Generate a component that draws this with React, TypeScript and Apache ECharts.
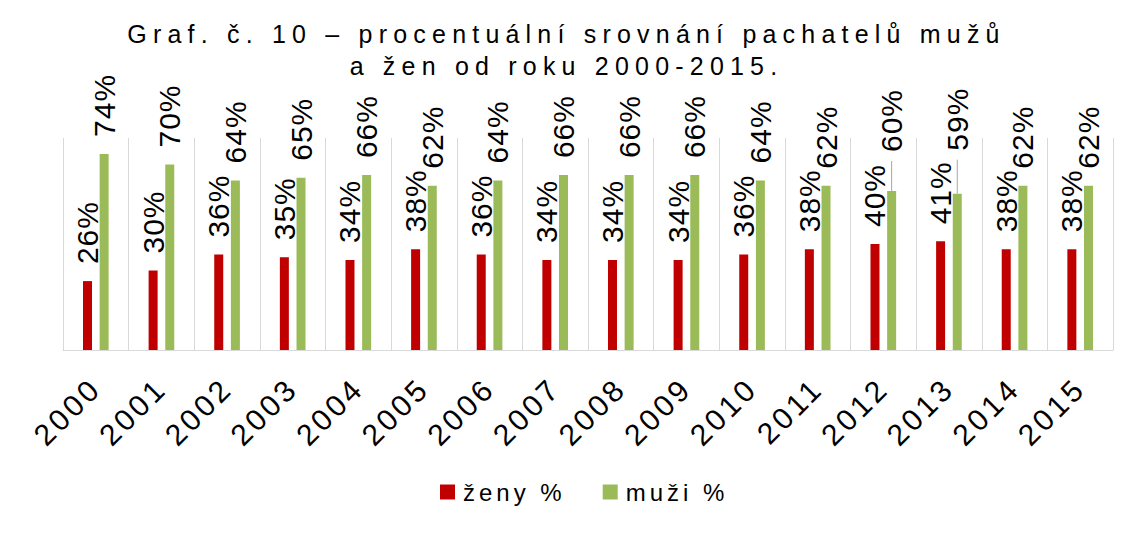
import React, { useEffect, useRef } from 'react';
import * as echarts from 'echarts';

const years = ['2000', '2001', '2002', '2003', '2004', '2005', '2006', '2007', '2008', '2009', '2010', '2011', '2012', '2013', '2014', '2015'];
const zenyPct = [26, 30, 36, 35, 34, 38, 36, 34, 34, 34, 36, 38, 40, 41, 38, 38];
const muziPct = [74, 70, 64, 65, 66, 62, 64, 66, 66, 66, 64, 62, 60, 59, 62, 62];
const seriesNames = ['ženy %', 'muži %'];
const titleLines = ['Graf. č. 10 – procentuální srovnání pachatelů mužů', 'a žen od roku 2000-2015.'];

// layout: extra label lift (px) for moved labels of the "muži" series, by category index
const muziLabelLift: Record<number, number> = { 12: 22, 13: 26 };
const LABEL_DIST = 17;
const BAR_W = 9;
const BAR_GAP_PCT = 85;
const GREEN_OFFSET = (BAR_W + (BAR_W * BAR_GAP_PCT) / 100) / 2;

const FONT = '"Liberation Sans", Arial, sans-serif';

export default function App() {
  const ref = useRef<HTMLDivElement>(null);

  useEffect(() => {
    if (!ref.current) return;
    const chart = echarts.init(ref.current, undefined, { renderer: 'svg' });

    const applySpacing = () => {
      const root = ref.current;
      if (!root) return;
      root.querySelectorAll('svg text').forEach((t) => {
        const s = (t.textContent || '').trim();
        let ls = 0;
        if (titleLines.includes(s)) ls = 6.2;
        else if (seriesNames.includes(s)) ls = 4;
        else if (years.includes(s)) ls = 3.5;
        else if (/%$/.test(s)) ls = 1;
        if (ls) (t as SVGTextElement).style.letterSpacing = ls + 'px';
      });
    };

    const labelStyle = {
      show: true,
      position: 'top',
      distance: LABEL_DIST,
      rotate: 90,
      align: 'left',
      verticalAlign: 'middle',
      fontSize: 30,
      color: '#000',
      fontFamily: FONT,
      formatter: '{c}%',
    };

    const muziData = muziPct.map((v, i) =>
      muziLabelLift[i] ? { value: v, label: { distance: LABEL_DIST + muziLabelLift[i] } } : v
    );
    const leaderData = Object.keys(muziLabelLift).map((k) => {
      const i = Number(k);
      return [i, muziPct[i], muziLabelLift[i]];
    });

    chart.setOption({
      animation: false,
      backgroundColor: '#ffffff',
      title: {
        text: titleLines.join('\n'),
        left: 'center',
        top: 18,
        padding: [0, 0, 0, 12],
        textStyle: {
          fontSize: 25,
          fontWeight: 'normal',
          color: '#000',
          lineHeight: 32,
          fontFamily: FONT,
        },
      },
      legend: {
        data: seriesNames,
        left: 440,
        top: 480,
        padding: 0,
        icon: 'rect',
        itemWidth: 15,
        itemHeight: 15,
        itemGap: 61,
        textStyle: { fontSize: 24, color: '#000', fontFamily: FONT, padding: [0, 0, 0, 3] },
      },
      grid: { left: 63, right: 20, top: 138, bottom: 183, containLabel: false },
      xAxis: {
        type: 'category',
        data: years,
        axisLine: { lineStyle: { color: '#d9d9d9', width: 1 } },
        axisTick: { show: false },
        splitLine: { show: true, lineStyle: { color: '#d9d9d9', width: 1 } },
        axisLabel: {
          rotate: 45,
          interval: 0,
          margin: 33,
          fontSize: 30,
          color: '#000',
          fontFamily: FONT,
        },
      },
      yAxis: { type: 'value', min: 0, max: 80, show: false },
      series: [
        {
          name: seriesNames[0],
          type: 'bar',
          data: zenyPct,
          barWidth: BAR_W,
          barGap: BAR_GAP_PCT + '%',
          itemStyle: { color: '#c00000' },
          label: labelStyle,
        },
        {
          name: seriesNames[1],
          type: 'bar',
          data: muziData,
          barWidth: BAR_W,
          barGap: BAR_GAP_PCT + '%',
          itemStyle: { color: '#9bbb59' },
          label: labelStyle,
        },
        {
          type: 'custom',
          name: 'leader',
          data: leaderData,
          encode: { x: 0, y: 1 },
          silent: true,
          z: 1,
          renderItem: (params: any, api: any) => {
            const p = api.coord([api.value(0), api.value(1)]);
            const lift = api.value(2);
            const x = p[0] + GREEN_OFFSET;
            return {
              type: 'line',
              shape: { x1: x, y1: p[1], x2: x, y2: p[1] - (LABEL_DIST + lift - 9) },
              style: { stroke: '#a6a6a6', lineWidth: 1 },
            };
          },
        },
      ],
    });

    applySpacing();
    chart.on('finished', applySpacing);

    return () => {
      chart.dispose();
    };
  }, []);

  return (
    <div
      ref={ref}
      style={{ position: 'absolute', left: 0, top: 0, width: 1133, height: 533 }}
    />
  );
}
